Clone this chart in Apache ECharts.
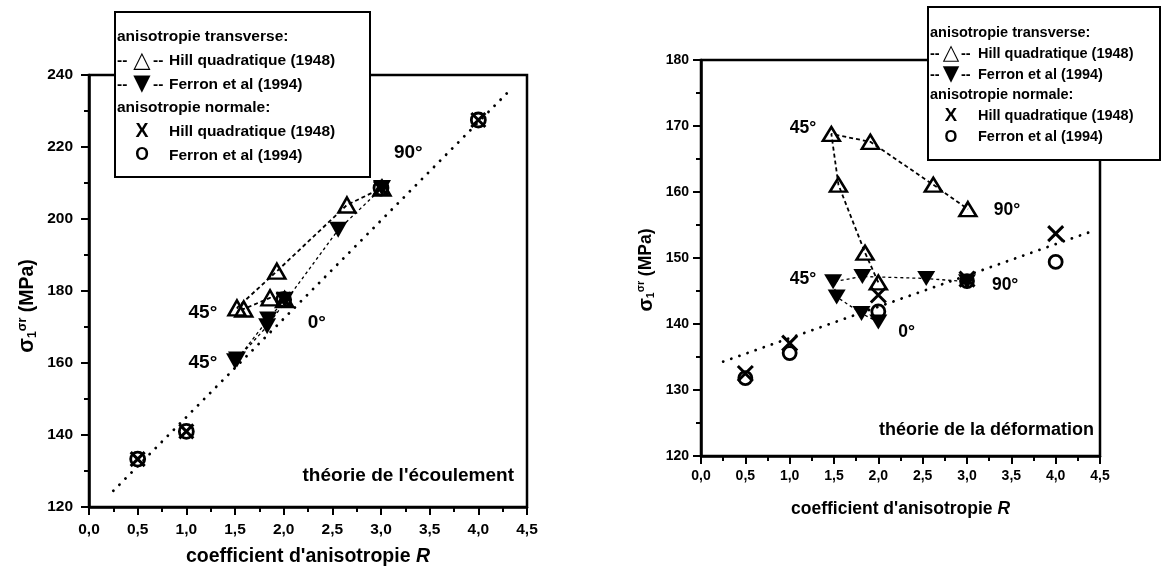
<!DOCTYPE html>
<html><head><meta charset="utf-8">
<script src="https://cdn.jsdelivr.net/npm/echarts@6/dist/echarts.min.js"></script>
<style>html,body{margin:0;padding:0;background:#fff}#c{width:1163px;height:573px}</style>
</head><body><div id="c"></div>
<script>
// ---------- data ----------
const angles = [0, 15, 30, 45, 60, 75, 90];
// left panel: théorie de l'écoulement
const L_hillT_R = [2.01, 1.86, 1.59, 1.52, 1.93, 2.65, 3.01];
const L_hillT_S = [177.6, 178.1, 175.0, 175.3, 185.5, 203.9, 208.6];
const L_ferT_R = [2.01, 1.84, 1.52, 1.50, 1.83, 2.56, 3.01];
const L_ferT_S = [177.6, 172.1, 161.0, 160.5, 170.2, 197.0, 208.6];
const L_norm_R = [0.5, 1.0, 2.0, 3.0, 4.0];
const L_hillN_S = [133.3, 141.0, 177.6, 208.6, 227.5];
const L_ferN_S = [133.3, 141.0, 177.6, 208.6, 227.5];
const L_fit_R = [0.25, 4.3];
const L_fit_S = [124.5, 235.1];
const L_notes = [[1.17, 173.9, '45°'], [1.17, 160.1, '45°'], [2.34, 171.2, '0°'], [3.28, 218.3, '90°']];
// right panel: théorie de la déformation
const R_hillT_R = [2.00, 1.85, 1.55, 1.47, 1.91, 2.62, 3.01];
const R_hillT_S = [146.3, 150.8, 161.1, 168.8, 167.6, 161.1, 157.4];
const R_ferT_R = [2.00, 1.81, 1.53, 1.49, 1.82, 2.54, 3.00];
const R_ferT_S = [140.3, 141.6, 144.1, 146.4, 147.2, 146.9, 146.4];
const R_norm_R = [0.5, 1.0, 2.0, 3.0, 4.0];
const R_hillN_S = [132.5, 137.1, 144.4, 146.8, 153.7];
const R_ferN_S = [131.8, 135.6, 141.9, 146.5, 149.4];
const R_fit_R = [0.25, 4.4];
const R_fit_S = [134.3, 154.0];
const R_notes = [[1.15, 169.6, '45°'], [3.45, 157.3, '90°'], [1.15, 146.8, '45°'], [3.43, 145.9, '90°'], [2.32, 138.8, '0°']];

// ---------- helpers ----------
const zip = (a, b) => a.map((v, i) => [v, b[i]]);
const FONT = '"Liberation Sans", Arial, sans-serif';
const fmt = v => v.toFixed(1).replace('.', ',');
const DOWN = 'path://M0,0L10,0L5,9Z';
const CROSS = 'path://M0,0L10,10M10,0L0,10';

function axes(gi, ymin, ymax, yint, fs, nameFs, xGap, yGap, xm, ym, yShift) {
  const line = {show: true, lineStyle: {color: '#000', width: 2.5}};
  const tick = {show: true, inside: false, length: 8, lineStyle: {color: '#000', width: 2}};
  const minor = {show: true, splitNumber: 2, length: 5, lineStyle: {color: '#000', width: 2}};
  return {
    x: {type: 'value', gridIndex: gi, min: 0, max: 4.5, interval: 0.5,
        axisLine: line, axisTick: tick, minorTick: minor, splitLine: {show: false},
        axisLabel: {formatter: fmt, color: '#000', fontFamily: FONT, fontWeight: 'bold', fontSize: fs, margin: xm},
        name: '{a|coefficient d\'anisotropie }{b|R}', nameLocation: 'middle', nameGap: xGap,
        nameTextStyle: {rich: {a: {fontFamily: FONT, fontWeight: 'bold', fontSize: nameFs, color: '#000'},
                               b: {fontFamily: FONT, fontWeight: 'bold', fontSize: nameFs, fontStyle: 'italic', color: '#000'}}}},
    y: {type: 'value', gridIndex: gi, min: ymin, max: ymax, interval: yint,
        axisLine: line, axisTick: tick, minorTick: minor, splitLine: {show: false},
        axisLabel: {color: '#000', fontFamily: FONT, fontWeight: 'bold', fontSize: fs, margin: ym},
        name: '{s|σ}{sub|1}{sup|σr}{n| (MPa)}', nameLocation: 'middle', nameGap: yGap, nameRotate: 90,
        nameTextStyle: {padding: [0, yShift, 0, 0], rich: {
          s: {fontFamily: FONT, fontWeight: 'bold', fontSize: nameFs + 2, color: '#000'},
          sub: {fontFamily: FONT, fontWeight: 'bold', fontSize: nameFs - 7, color: '#000', verticalAlign: 'bottom', padding: [8, 0, 0, 0]},
          sup: {fontFamily: FONT, fontWeight: 'bold', fontSize: nameFs - 7, color: '#000', verticalAlign: 'top', padding: [0, 0, 10, 0]},
          n: {fontFamily: FONT, fontWeight: 'bold', fontSize: nameFs, color: '#000'}}}}
  };
}

function panel(gi, d, noteFs, triS, downS, crossS, circS) {
  const openTri = {color: 'rgba(0,0,0,0)', borderColor: '#000', borderWidth: 2.5, opacity: 1};
  return [
    {type: 'line', xAxisIndex: gi, yAxisIndex: gi, data: zip(d.fitR, d.fitS), symbol: 'none', z: 1,
     lineStyle: {color: '#000', width: 2.8, type: [0.1, 8.5], cap: 'round'}},
    {type: 'line', xAxisIndex: gi, yAxisIndex: gi, data: zip(d.ftR, d.ftS), symbol: DOWN, symbolSize: downS, z: 3,
     itemStyle: {color: '#000', opacity: 1}, lineStyle: {color: '#000', width: 1.3, type: [3, 3]}},
    {type: 'line', xAxisIndex: gi, yAxisIndex: gi, data: zip(d.htR, d.htS), symbol: 'triangle', symbolSize: triS, z: 4,
     itemStyle: openTri, lineStyle: {color: '#000', width: 1.8, type: [4, 3]}},
    {type: 'scatter', xAxisIndex: gi, yAxisIndex: gi, data: zip(d.nR, d.hnS), symbol: CROSS, symbolSize: crossS, z: 5,
     itemStyle: {color: 'rgba(0,0,0,0)', borderColor: '#000', borderWidth: 3, opacity: 1}},
    {type: 'scatter', xAxisIndex: gi, yAxisIndex: gi, data: zip(d.nR, d.fnS), symbol: 'circle', symbolSize: circS, z: 5,
     itemStyle: {color: 'rgba(0,0,0,0)', borderColor: '#000', borderWidth: 2.8, opacity: 1}},
    {type: 'scatter', xAxisIndex: gi, yAxisIndex: gi, data: d.notes, symbolSize: 1, z: 6,
     itemStyle: {color: 'rgba(0,0,0,0)', opacity: 1},
     label: {show: true, position: 'inside', formatter: p => p.data[2], color: '#000', fontFamily: FONT, fontWeight: 'bold', fontSize: noteFs}}
  ];
}

function legend(x, y, w, h, fs, r0, rowH, d1, symX, d2, txtX) {
  const F = 'bold ' + fs + 'px ' + FONT;
  const t = (ty, str, dx) => ({type: 'text', x: dx, y: ty, style: {text: str, fill: '#000', font: F, textVerticalAlign: 'middle'}});
  const s = (ty, str, font) => ({type: 'text', x: symX, y: ty, style: {text: str, fill: '#000', font: font, textAlign: 'center', textVerticalAlign: 'middle'}});
  return {type: 'group', x: x, y: y, z: 100, children: [
    {type: 'rect', shape: {x: 0, y: 0, width: w, height: h}, style: {fill: '#fff', stroke: '#000', lineWidth: 2}},
    t(r0, 'anisotropie transverse:', 2),
    t(r0 + rowH, '--', d1), s(r0 + rowH, '△', 'bold ' + (fs + 7) + 'px "DejaVu Sans"'),
    t(r0 + rowH, '--', d2), t(r0 + rowH, 'Hill quadratique (1948)', txtX),
    t(r0 + 2 * rowH, '--', d1), s(r0 + 2 * rowH, '▼', (fs + 7) + 'px "DejaVu Sans"'),
    t(r0 + 2 * rowH, '--', d2), t(r0 + 2 * rowH, 'Ferron et al (1994)', txtX),
    t(r0 + 3 * rowH, 'anisotropie normale:', 2),
    s(r0 + 4 * rowH, 'X', 'bold ' + (fs + 4) + 'px ' + FONT),
    t(r0 + 4 * rowH, 'Hill quadratique (1948)', txtX),
    s(r0 + 5 * rowH, 'O', 'bold ' + (fs + 2) + 'px ' + FONT),
    t(r0 + 5 * rowH, 'Ferron et al (1994)', txtX)
  ]};
}

const A = axes(0, 120, 240, 20, 15.5, 19.5, 40, 50, 15, 16, 30);
const B = axes(1, 120, 180, 10, 14, 17.5, 44, 44, 13, 12, 24);

const option = {
  backgroundColor: '#fff',
  animation: false,
  grid: [
    {left: 89, top: 75, width: 438, height: 432, show: true, borderColor: '#000', borderWidth: 2.5, backgroundColor: 'transparent'},
    {left: 701, top: 60, width: 399, height: 396, show: true, borderColor: '#000', borderWidth: 2.5, backgroundColor: 'transparent'}
  ],
  xAxis: [A.x, B.x],
  yAxis: [A.y, B.y],
  series: [
    ...panel(0, {fitR: L_fit_R, fitS: L_fit_S, ftR: L_ferT_R, ftS: L_ferT_S, htR: L_hillT_R, htS: L_hillT_S,
                 nR: L_norm_R, hnS: L_hillN_S, fnS: L_ferN_S, notes: L_notes}, 19, [17, 15], [18, 16], 14, 14),
    ...panel(1, {fitR: R_fit_R, fitS: R_fit_S, ftR: R_ferT_R, ftS: R_ferT_S, htR: R_hillT_R, htS: R_hillT_S,
                 nR: R_norm_R, hnS: R_hillN_S, fnS: R_ferN_S, notes: R_notes}, 17.5, [17, 14], [18, 15], 15, 13)
  ],
  graphic: [
    legend(115, 12, 255, 165, 15.5, 25, 23.7, 2, 27, 38, 54),
    legend(928, 7, 232, 153, 14.5, 26, 20.8, 2, 23, 33, 50),
    {type: 'text', right: 1163 - 514, top: 466, z: 50, style: {text: "théorie de l'écoulement", fill: '#000', font: 'bold 19px ' + FONT}},
    {type: 'text', right: 1163 - 1094, top: 421, z: 50, style: {text: 'théorie de la déformation', fill: '#000', font: 'bold 18px ' + FONT}}
  ]
};
const chart = echarts.init(document.getElementById('c'));
chart.setOption(option);
</script></body></html>
